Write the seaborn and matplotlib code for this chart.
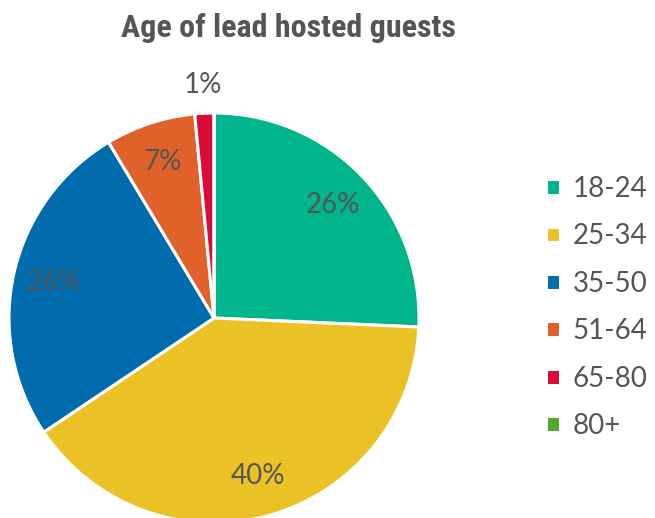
import matplotlib
matplotlib.use("Agg")
import matplotlib.pyplot as plt
import seaborn as sns

# age groups of lead hosted guests (share in %)
groups = ["18-24", "25-34", "35-50", "51-64", "65-80", "80+"]
shares = [25.7, 39.9, 25.8, 7.1, 1.5, 0.0]
colors = ["#00B48C", "#EBC226", "#006BAD", "#E0622A", "#DC0A37", "#4EA72E"]

sns.set_theme(style="white")
plt.rcParams["font.family"] = ["Lato", "DejaVu Sans"]
text_color = "#555555"

fig = plt.figure(figsize=(6.55, 5.18), dpi=100)
ax = fig.add_axes([9 / 655, -5 / 518, 410 / 655, 410 / 518])

palette = sns.color_palette(colors)
wedges, texts, autotexts = ax.pie(
    shares,
    colors=palette,
    startangle=90,
    counterclock=False,
    autopct=lambda p: f"{p:.0f}%" if p >= 0.5 else "",
    pctdistance=0.8,
    wedgeprops=dict(edgecolor="white", linewidth=2.2),
    textprops=dict(color=text_color, fontsize=20),
)
# small slice label sits outside the pie
t = autotexts[4]
x, y = t.get_position()
scale = 1.14 / 0.8
t.set_position((x * scale, y * scale))

ax.set_xlim(-1, 1)
ax.set_ylim(-1, 1)
ax.set_aspect("equal")

fig.legend(
    wedges, groups,
    loc="upper left", bbox_to_anchor=(546 / 655, 1 - 176 / 518),
    frameon=False, fontsize=20, labelcolor=text_color,
    handlelength=0.5, handleheight=0.5, handletextpad=0.45,
    labelspacing=0.77, borderaxespad=0, borderpad=0,
)

fig.text(288 / 655, 1 - 28 / 518, "Age of lead hosted guests",
         ha="center", va="center", fontsize=23, fontweight="heavy",
         fontstretch="condensed",
         family=["Roboto Condensed", "DejaVu Sans"], color=text_color)

fig.savefig("out.png", dpi=100)
